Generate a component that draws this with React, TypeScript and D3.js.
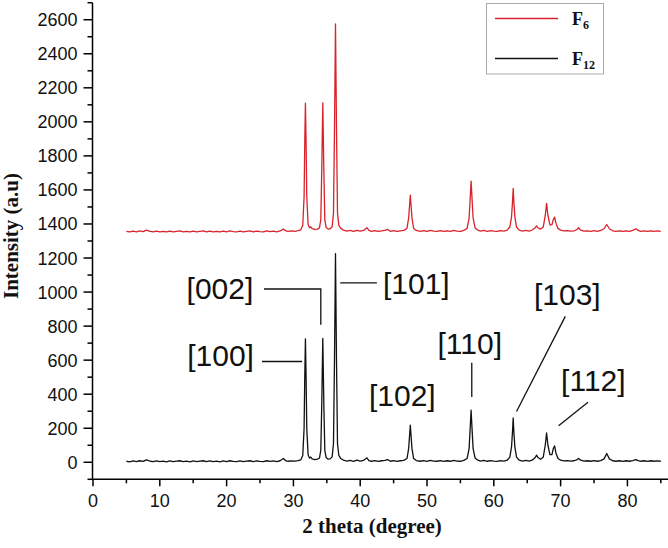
import React from "react";
import * as d3 from "d3";

// ---- Data ----
const xMajorTicks = [0, 10, 20, 30, 40, 50, 60, 70, 80];
const xMinorTicks = [5, 15, 25, 35, 45, 55, 65, 75, 85];
const yMajorTicks = [0, 200, 400, 600, 800, 1000, 1200, 1400, 1600, 1800, 2000, 2200, 2400, 2600];
const yMinorTicks = [-100, 100, 300, 500, 700, 900, 1100, 1300, 1500, 1700, 1900, 2100, 2300, 2500, 2700];

const seriesNames = ["F6", "F12"];

// F12 (black) pattern: [2theta, intensity]
const f12Points: [number, number][] = [
  [5.0, 6], [5.5, 3], [6.0, 8], [6.5, 4], [7.0, 9], [7.5, 5], [8.0, 14], [8.3, 10], [8.6, 6], [9.0, 4],
  [9.5, 8], [10.0, 4], [10.5, 7], [11.0, 3], [11.5, 8], [12.0, 4], [12.5, 7], [13.0, 9], [13.5, 4], [14.0, 7],
  [14.5, 3], [15.0, 8], [15.5, 4], [16.0, 7], [16.5, 9], [17.0, 4], [17.5, 8], [18.0, 4], [18.5, 7], [19.0, 3],
  [19.5, 8], [20.0, 4], [20.5, 9], [21.0, 5], [21.5, 4], [22.0, 8], [22.5, 4], [23.0, 7], [23.5, 9], [24.0, 4],
  [24.5, 8], [25.0, 5], [25.5, 4], [26.0, 9], [26.5, 5], [27.0, 8], [27.5, 4], [28.0, 9], [28.5, 22], [28.8, 10],
  [29.2, 6], [29.7, 8], [30.2, 7], [30.7, 10], [31.1, 14], [31.4, 40], [31.6, 200], [31.7, 500], [31.8, 725], [31.9, 500],
  [32.0, 200], [32.2, 45], [32.4, 25], [32.6, 30], [32.8, 20], [33.2, 16], [33.6, 18], [33.9, 25], [34.1, 70], [34.25, 350],
  [34.4, 728], [34.55, 350], [34.7, 70], [34.9, 28], [35.2, 18], [35.5, 20], [35.8, 32], [36.0, 110], [36.15, 600], [36.3, 1225],
  [36.45, 600], [36.6, 110], [36.8, 40], [37.1, 22], [37.5, 12], [38.0, 7], [38.5, 11], [39.0, 6], [39.5, 12], [40.0, 7],
  [40.5, 11], [41.0, 26], [41.3, 10], [41.7, 6], [42.2, 10], [42.7, 5], [43.2, 9], [43.7, 11], [44.1, 16], [44.5, 6],
  [45.0, 10], [45.5, 5], [46.0, 9], [46.5, 11], [47.0, 22], [47.25, 80], [47.5, 218], [47.75, 80], [48.0, 22], [48.4, 10],
  [49.0, 6], [49.5, 10], [50.0, 5], [50.5, 11], [51.0, 7], [51.5, 6], [52.0, 10], [52.5, 5], [53.0, 9], [53.5, 6],
  [54.0, 11], [54.5, 7], [55.0, 6], [55.5, 11], [56.0, 22], [56.3, 80], [56.45, 190], [56.6, 306], [56.75, 190], [56.9, 80],
  [57.2, 25], [57.6, 12], [58.0, 7], [58.5, 11], [59.0, 6], [59.5, 10], [60.0, 7], [60.5, 5], [61.0, 10], [61.5, 7],
  [62.0, 12], [62.4, 30], [62.65, 90], [62.8, 180], [62.9, 260], [63.0, 180], [63.15, 90], [63.4, 30], [63.8, 12], [64.3, 7],
  [64.8, 11], [65.3, 7], [65.8, 14], [66.2, 28], [66.4, 42], [66.6, 28], [67.0, 18], [67.4, 30], [67.7, 100], [67.9, 172],
  [68.1, 100], [68.4, 45], [68.7, 45], [68.9, 80], [69.1, 96], [69.3, 55], [69.6, 22], [70.0, 12], [70.5, 8], [71.0, 10],
  [71.5, 7], [72.0, 9], [72.4, 14], [72.7, 22], [73.0, 12], [73.5, 7], [74.0, 9], [74.5, 6], [75.0, 10], [75.5, 6],
  [76.0, 10], [76.5, 20], [76.9, 52], [77.3, 20], [77.8, 9], [78.3, 6], [78.8, 9], [79.3, 5], [79.8, 9], [80.3, 6],
  [80.8, 10], [81.3, 16], [81.6, 10], [82.0, 6], [82.5, 9], [83.0, 5], [83.5, 9], [84.0, 6], [84.5, 8], [85.0, 6],
];

// F6 (red) pattern: [2theta, intensity]
const f6Points: [number, number][] = [
  [5.0, 1356], [5.5, 1353], [6.0, 1358], [6.5, 1354], [7.0, 1359], [7.5, 1355], [8.0, 1364], [8.3, 1360], [8.6, 1356], [9.0, 1354],
  [9.5, 1358], [10.0, 1354], [10.5, 1357], [11.0, 1353], [11.5, 1358], [12.0, 1354], [12.5, 1357], [13.0, 1359], [13.5, 1354], [14.0, 1357],
  [14.5, 1353], [15.0, 1358], [15.5, 1354], [16.0, 1357], [16.5, 1359], [17.0, 1354], [17.5, 1358], [18.0, 1354], [18.5, 1357], [19.0, 1353],
  [19.5, 1358], [20.0, 1354], [20.5, 1359], [21.0, 1355], [21.5, 1354], [22.0, 1358], [22.5, 1354], [23.0, 1357], [23.5, 1359], [24.0, 1354],
  [24.5, 1358], [25.0, 1355], [25.5, 1354], [26.0, 1359], [26.5, 1355], [27.0, 1358], [27.5, 1354], [28.0, 1359], [28.5, 1370], [28.8, 1361],
  [29.2, 1356], [29.7, 1359], [30.2, 1357], [30.7, 1361], [31.1, 1366], [31.4, 1392], [31.6, 1560], [31.7, 1880], [31.8, 2110], [31.9, 1880],
  [32.0, 1560], [32.2, 1398], [32.4, 1378], [32.6, 1383], [32.8, 1372], [33.2, 1368], [33.6, 1370], [33.9, 1377], [34.1, 1425], [34.25, 1730],
  [34.4, 2112], [34.55, 1730], [34.7, 1425], [34.9, 1380], [35.2, 1370], [35.5, 1372], [35.8, 1384], [36.0, 1465], [36.15, 1960], [36.3, 2575],
  [36.45, 1960], [36.6, 1465], [36.8, 1392], [37.1, 1374], [37.5, 1364], [38.0, 1358], [38.5, 1362], [39.0, 1357], [39.5, 1363], [40.0, 1358],
  [40.5, 1362], [41.0, 1378], [41.3, 1362], [41.7, 1357], [42.2, 1361], [42.7, 1356], [43.2, 1360], [43.7, 1362], [44.1, 1368], [44.5, 1357],
  [45.0, 1361], [45.5, 1356], [46.0, 1360], [46.5, 1362], [47.0, 1374], [47.25, 1435], [47.5, 1570], [47.75, 1435], [48.0, 1374], [48.4, 1362],
  [49.0, 1357], [49.5, 1361], [50.0, 1356], [50.5, 1362], [51.0, 1358], [51.5, 1357], [52.0, 1361], [52.5, 1356], [53.0, 1360], [53.5, 1357],
  [54.0, 1362], [54.5, 1358], [55.0, 1357], [55.5, 1362], [56.0, 1374], [56.3, 1435], [56.45, 1540], [56.6, 1652], [56.75, 1540], [56.9, 1435],
  [57.2, 1377], [57.6, 1364], [58.0, 1358], [58.5, 1362], [59.0, 1357], [59.5, 1361], [60.0, 1358], [60.5, 1356], [61.0, 1361], [61.5, 1358],
  [62.0, 1364], [62.4, 1382], [62.65, 1442], [62.8, 1530], [62.9, 1609], [63.0, 1530], [63.15, 1442], [63.4, 1382], [63.8, 1364], [64.3, 1358],
  [64.8, 1362], [65.3, 1358], [65.8, 1366], [66.2, 1378], [66.4, 1388], [66.6, 1378], [67.0, 1370], [67.4, 1382], [67.7, 1450], [67.9, 1521],
  [68.1, 1450], [68.4, 1395], [68.7, 1395], [68.9, 1425], [69.1, 1440], [69.3, 1405], [69.6, 1374], [70.0, 1364], [70.5, 1359], [71.0, 1361],
  [71.5, 1358], [72.0, 1360], [72.4, 1366], [72.7, 1378], [73.0, 1364], [73.5, 1358], [74.0, 1360], [74.5, 1357], [75.0, 1361], [75.5, 1357],
  [76.0, 1362], [76.5, 1372], [76.9, 1397], [77.3, 1372], [77.8, 1360], [78.3, 1357], [78.8, 1360], [79.3, 1356], [79.8, 1360], [80.3, 1357],
  [80.8, 1362], [81.3, 1372], [81.6, 1362], [82.0, 1357], [82.5, 1360], [83.0, 1356], [83.5, 1360], [84.0, 1357], [84.5, 1359], [85.0, 1357],
];

// Peak labels: [text, 2theta, intensity] of label centre
const peakLabels: [string, number, number][] = [
  ["[002]", 19.0, 1008],
  ["[100]", 19.1, 610],
  ["[101]", 48.4, 1036],
  ["[102]", 46.3, 378],
  ["[110]", 56.4, 685],
  ["[103]", 71.0, 973],
  ["[112]", 74.9, 467],
];

// Leader lines as polylines in data coordinates
const leaderLines: [number, number][][] = [
  [[25.6, 1018], [34.1, 1018], [34.1, 808]],
  [[25.3, 592], [31.3, 592]],
  [[37.0, 1054], [42.5, 1054]],
  [[56.7, 585], [56.7, 384]],
  [[70.7, 857], [63.4, 298]],
  [[74.1, 353], [69.7, 215]],
];

const W = 668;
const H = 548;
const RED = "#d8232a";

export default function App() {
  const x = d3.scaleLinear().domain([0, 86]).range([93, 667.5]);
  const y = d3.scaleLinear().domain([-100, 2700]).range([479.3, 2.7]);

  const line = d3
    .line<[number, number]>()
    .x((d) => x(d[0]))
    .y((d) => y(d[1]));

  const axisX = x.range()[0] - 0.5;
  const axisY = y.range()[0];
  const sans = "'Liberation Sans', Arial, sans-serif";
  const serif = "'Liberation Serif', 'Times New Roman', serif";

  return (
    <svg width={W} height={H} style={{ position: "absolute", left: 0, top: 0, background: "#fff" }}>
      <rect x={0} y={0} width={W} height={H} fill="#fff" />

      {/* data */}
      <path d={line(f6Points) || ""} fill="none" stroke={RED} strokeWidth={1.3} strokeLinejoin="round" />
      <path d={line(f12Points) || ""} fill="none" stroke="#111" strokeWidth={1.3} strokeLinejoin="round" />

      {/* axes */}
      <line x1={axisX} y1={y(2700)} x2={axisX} y2={axisY} stroke="#000" strokeWidth={1.5} />
      <line x1={axisX} y1={axisY} x2={W} y2={axisY} stroke="#000" strokeWidth={1.5} />

      {yMajorTicks.map((t) => (
        <g key={"ym" + t}>
          <line x1={axisX - 9} x2={axisX} y1={y(t)} y2={y(t)} stroke="#000" strokeWidth={1.5} />
          <text x={axisX - 15} y={y(t)} dy="0.36em" textAnchor="end" fontFamily={sans} fontSize={18} fill="#111">
            {t}
          </text>
        </g>
      ))}
      {yMinorTicks.map((t) => (
        <line key={"yn" + t} x1={axisX - 5} x2={axisX} y1={y(t)} y2={y(t)} stroke="#000" strokeWidth={1.5} />
      ))}
      {xMajorTicks.map((t) => (
        <g key={"xm" + t}>
          <line x1={x(t)} x2={x(t)} y1={axisY} y2={axisY + 7} stroke="#000" strokeWidth={1.5} />
          <text x={x(t)} y={507} textAnchor="middle" fontFamily={sans} fontSize={18} fill="#111">
            {t}
          </text>
        </g>
      ))}
      {xMinorTicks.map((t) => (
        <line key={"xn" + t} x1={x(t)} x2={x(t)} y1={axisY} y2={axisY + 4} stroke="#000" strokeWidth={1.5} />
      ))}

      {/* axis titles */}
      <text x={372} y={533} textAnchor="middle" fontFamily={serif} fontWeight="bold" fontSize={21} fill="#111">
        2 theta (degree)
      </text>
      <text
        transform={`translate(18,236) rotate(-90)`}
        textAnchor="middle"
        fontFamily={serif}
        fontWeight="bold"
        fontSize={21}
        fill="#111"
      >
        Intensity (a.u)
      </text>

      {/* annotations */}
      {leaderLines.map((pts, i) => (
        <path key={"ll" + i} d={line(pts) || ""} fill="none" stroke="#111" strokeWidth={1.3} />
      ))}
      {peakLabels.map(([txt, px, py]) => (
        <text key={txt} x={x(px)} y={y(py) + 8} textAnchor="middle" fontFamily={sans} fontSize={30} fill="#111">
          {txt}
        </text>
      ))}

      {/* legend */}
      <rect x={486.5} y={3.5} width={117} height={70.5} fill="#fff" stroke="#aaa" strokeWidth={1} />
      <line x1={495} x2={558} y1={18.5} y2={18.5} stroke={RED} strokeWidth={1.5} />
      <line x1={495} x2={558} y1={58.5} y2={58.5} stroke="#111" strokeWidth={1.5} />
      <text x={572} y={25} fontFamily={serif} fontWeight="bold" fontSize={18} fill="#111">
        {seriesNames[0].slice(0, 1)}
        <tspan dy={4} fontSize={12}>{seriesNames[0].slice(1)}</tspan>
      </text>
      <text x={572} y={64.5} fontFamily={serif} fontWeight="bold" fontSize={18} fill="#111">
        {seriesNames[1].slice(0, 1)}
        <tspan dy={4} fontSize={12}>{seriesNames[1].slice(1)}</tspan>
      </text>
    </svg>
  );
}
